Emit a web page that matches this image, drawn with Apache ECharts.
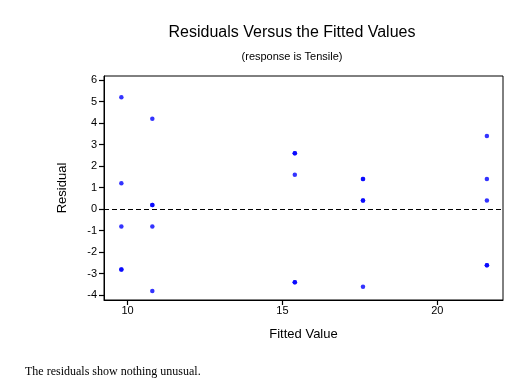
<!DOCTYPE html>
<html><head><meta charset="utf-8">
<script src="https://cdn.jsdelivr.net/npm/echarts@6/dist/echarts.min.js"></script>
<style>html,body{margin:0;padding:0;background:#fff}#c{width:529px;height:390px}</style>
</head><body><div id="c"></div>
<script>
const fittedValues = [9.8, 9.8, 9.8, 9.8, 9.8, 15.4, 15.4, 15.4, 15.4, 15.4, 17.6, 17.6, 17.6, 17.6, 17.6, 21.6, 21.6, 21.6, 21.6, 21.6, 10.8, 10.8, 10.8, 10.8, 10.8];
const residuals = [-2.8, -2.8, 5.2, 1.2, -0.8, -3.4, 1.6, -3.4, 2.6, 2.6, -3.6, 0.4, 0.4, 1.4, 1.4, -2.6, 3.4, 0.4, -2.6, 1.4, -3.8, -0.8, 0.2, 4.2, 0.2];
const yTicks = [-4, -3, -2, -1, 0, 1, 2, 3, 4, 5, 6];
const xTicks = [10, 15, 20];

const points = fittedValues.map((x, i) => [x, residuals[i]]);
const font = 'Arial, "Liberation Sans", sans-serif';
const chart = echarts.init(document.getElementById('c'), null, {renderer: 'canvas'});
chart.setOption({
  animation: false,
  backgroundColor: '#ffffff',
  title: [
    {text: 'Residuals Versus the Fitted Values', left: 287, top: 20, textAlign: 'center',
     textStyle: {fontFamily: font, fontSize: 16, fontWeight: 'normal', color: '#000'}},
    {text: '(response is Tensile)', left: 287, top: 46, textAlign: 'center',
     textStyle: {fontFamily: font, fontSize: 11, fontWeight: 'normal', color: '#000'}},
    {text: 'The residuals show nothing unusual.', left: 20, top: 361,
     textStyle: {fontFamily: '"Liberation Serif", "Times New Roman", serif', fontSize: 12, fontWeight: 'normal', color: '#000'}}
  ],
  grid: {left: 104, top: 76, width: 399, height: 224, show: true, borderColor: '#000', borderWidth: 1, backgroundColor: 'transparent'},
  xAxis: {
    type: 'value', min: 9.24, max: 22.12,
    name: 'Fitted Value', nameLocation: 'middle', nameGap: 28,
    nameTextStyle: {fontFamily: font, fontSize: 13, color: '#000'},
    axisLine: {show: true, onZero: false, lineStyle: {color: '#000', width: 1}},
    axisTick: {show: true, customValues: xTicks, length: 5, lineStyle: {color: '#000', width: 1.2}},
    axisLabel: {customValues: xTicks, fontFamily: font, fontSize: 11, color: '#000', margin: 5},
    splitLine: {show: false}
  },
  yAxis: {
    type: 'value', min: -4.22, max: 6.19,
    name: 'Residual', nameLocation: 'middle', nameGap: 35,
    nameTextStyle: {fontFamily: font, fontSize: 13, color: '#000'},
    axisLine: {show: true, onZero: false, lineStyle: {color: '#000', width: 1}},
    axisTick: {show: true, customValues: yTicks, length: 5, lineStyle: {color: '#000', width: 1.2}},
    axisLabel: {customValues: yTicks, fontFamily: font, fontSize: 11, color: '#000', margin: 7},
    splitLine: {show: false}
  },
  series: [{
    type: 'scatter', data: points, symbol: 'circle', symbolSize: 4.5,
    itemStyle: {color: '#0000ff'},
    markLine: {
      silent: true, symbol: ['none', 'none'], label: {show: false},
      lineStyle: {color: '#000', type: [5, 3], width: 1},
      data: [{yAxis: 0}]
    }
  }]
});
</script></body></html>
